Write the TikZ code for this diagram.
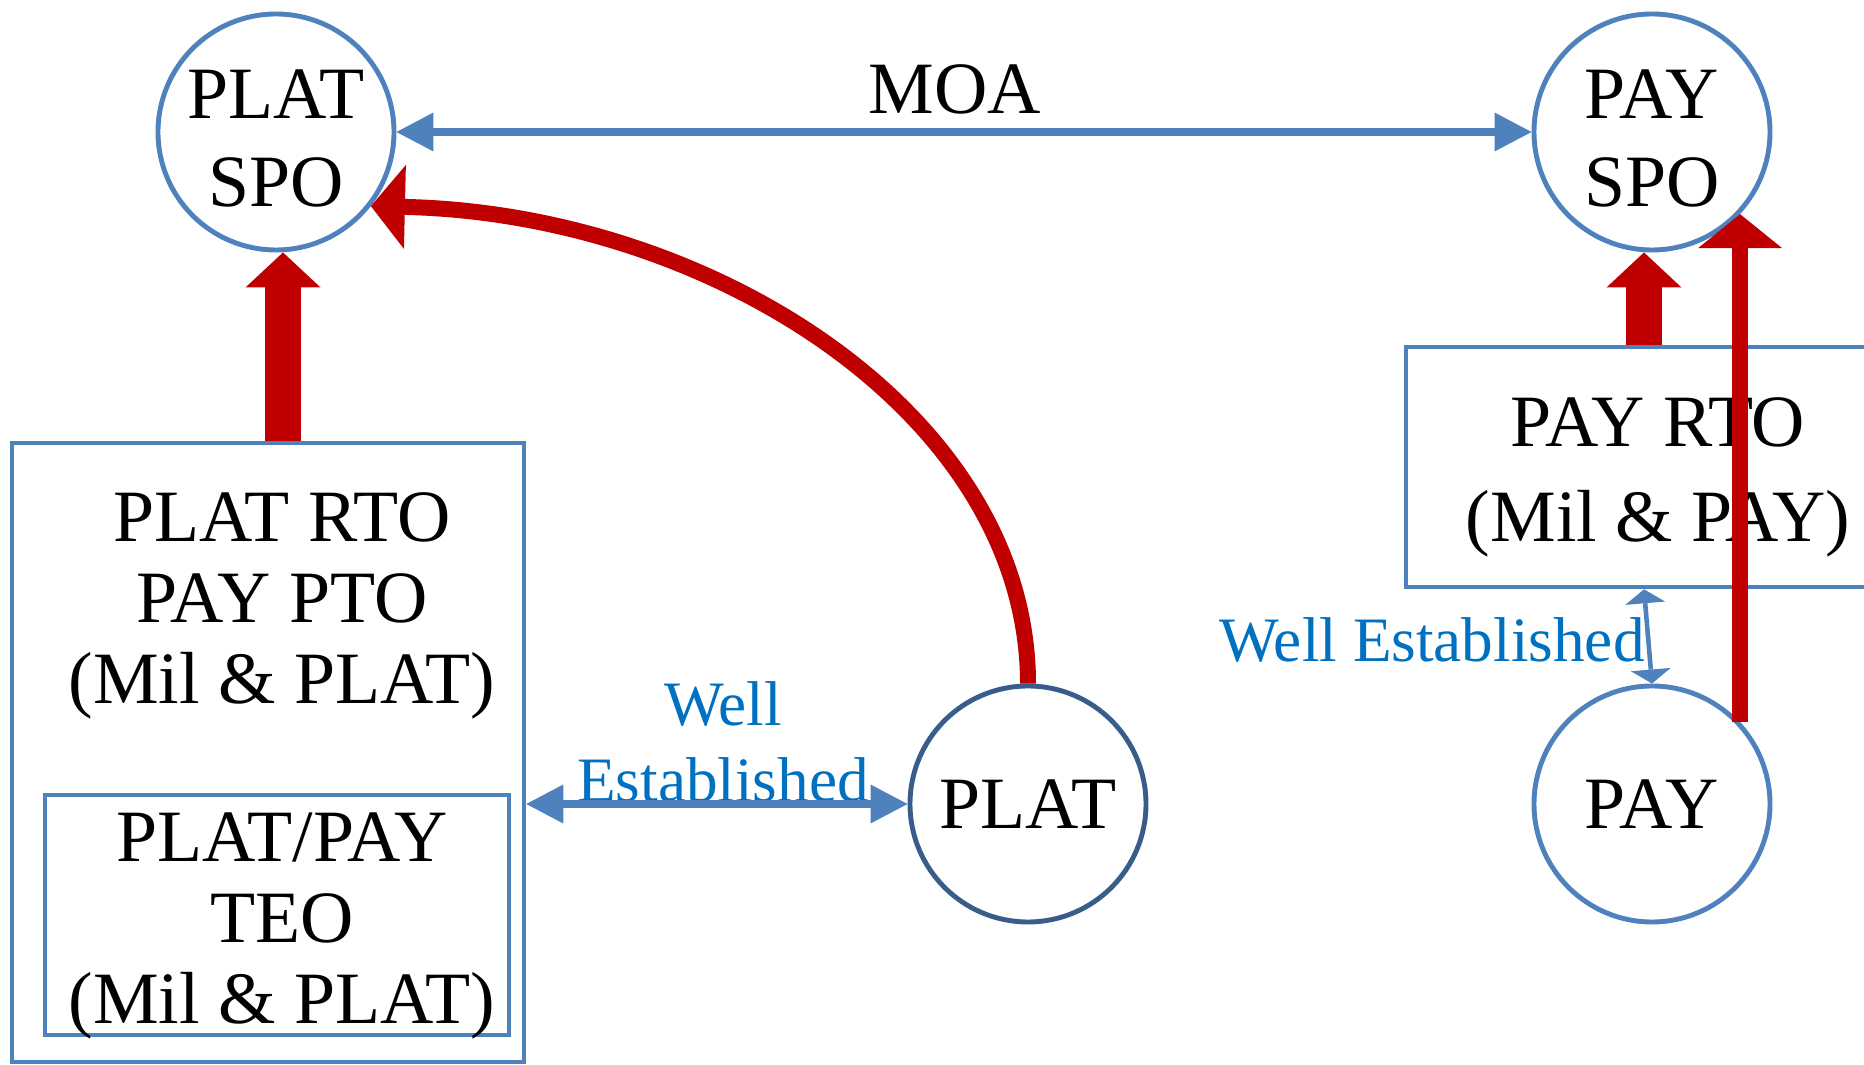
\documentclass[tikz,border=0pt]{standalone}
\usepackage{fontspec}
\setmainfont{Liberation Serif}
\usetikzlibrary{arrows.meta}
\definecolor{lineblue}{HTML}{4F81BD}
\definecolor{navy}{HTML}{385D8A}
\definecolor{textblue}{HTML}{0070C0}
\definecolor{darkred}{HTML}{C00000}

\begin{document}
\begin{tikzpicture}[
    bubble/.style={circle, draw=lineblue, line width=1.4pt, minimum size=2.36cm, inner sep=0pt, align=center, font=\fontsize{21}{25}\selectfont},
    panel/.style={rectangle, draw=lineblue, line width=1.3pt, inner sep=0pt},
    bigtext/.style={align=center, inner sep=0pt},
    note/.style={align=center, inner sep=0pt, text=textblue, font=\fontsize{18}{21.6}\selectfont},
    link/.style={draw=lineblue, line width=2.1pt, {Triangle[width=0.39cm,length=0.37cm,line width=0pt]}-{Triangle[width=0.39cm,length=0.37cm,line width=0pt]}},
    smalllink/.style={draw=lineblue, line width=1.3pt, {Triangle[width=0.4cm,length=0.14cm,line width=0pt]}-{Triangle[width=0.4cm,length=0.14cm,line width=0pt]}},
    bigarrow/.style={draw=darkred, line width=0.36cm, -{Triangle[width=0.75cm,length=0.35cm,line width=0pt]}},
    thinarrow/.style={draw=darkred, line width=0.16cm, -{Triangle[width=0.84cm,length=0.34cm,line width=0pt]}}
  ]
  \useasboundingbox (0,0) rectangle (18.64,10.65);
  \clip (0,0) rectangle (18.64,10.65);

  % offices
  \node[bubble, text height=1.49cm] (pltspo) at (2.76,9.33) {PLAT\\SPO};
  \node[bubble, text height=1.49cm] (payspo) at (16.52,9.33) {PAY\\SPO};
  \node[bubble, draw=navy] (plat) at (10.28,2.61) {PLAT};
  \node[bubble] (pay) at (16.52,2.61) {PAY};

  % boxes
  \node[panel, minimum width=5.12cm, minimum height=6.19cm] (pltbox) at (2.68,3.125) {};
  \node[panel, minimum width=4.64cm, minimum height=2.4cm] (teobox) at (2.77,1.50) {};
  \node[panel, minimum width=5.04cm, minimum height=2.4cm] (paybox) at (16.58,5.98) {};
  \node[bigtext, font=\fontsize{21}{23}\selectfont] (pltrto) at (2.82,4.59) {PLAT RTO\\PAY PTO\\(Mil \& PLAT)};
  \node[bigtext, font=\fontsize{21}{23}\selectfont] (teo) at (2.82,1.39) {PLAT/PAY\\TEO\\(Mil \& PLAT)};
  \node[bigtext, font=\fontsize{21}{27}\selectfont] (payrto) at (16.58,5.88) {PAY RTO\\(Mil \& PAY)};

  % labels
  \node[bigtext, font=\fontsize{21}{25}\selectfont] (moa) at (9.55,9.76) {MOA};
  \node[note] (wellL) at (7.23,3.23) {Well\\Established};
  \node[note] (wellR) at (14.32,4.25) {Well Established};

  % blue links
  \draw[link] (pltspo) -- (payspo);
  \draw[link] (pltbox.east |- plat.west) -- (plat.west);
  \draw[smalllink] ([xshift=-0.14cm]paybox.south) -- (pay.north);

  % red arrows
  \draw[bigarrow] ([xshift=0.07cm]pltspo.south |- pltbox.north) -- ([xshift=0.07cm]pltspo.south);
  \draw[bigarrow] ([xshift=-0.08cm]payspo.south |- paybox.north) -- ([xshift=-0.08cm]payspo.south);
  \draw[thinarrow] (pay.43.5) -- (payspo.-43.5);
  \draw[thinarrow] (plat.north) .. controls +(0,2.68) and (7.13,8.51) .. (pltspo.-38);
\end{tikzpicture}
\end{document}
